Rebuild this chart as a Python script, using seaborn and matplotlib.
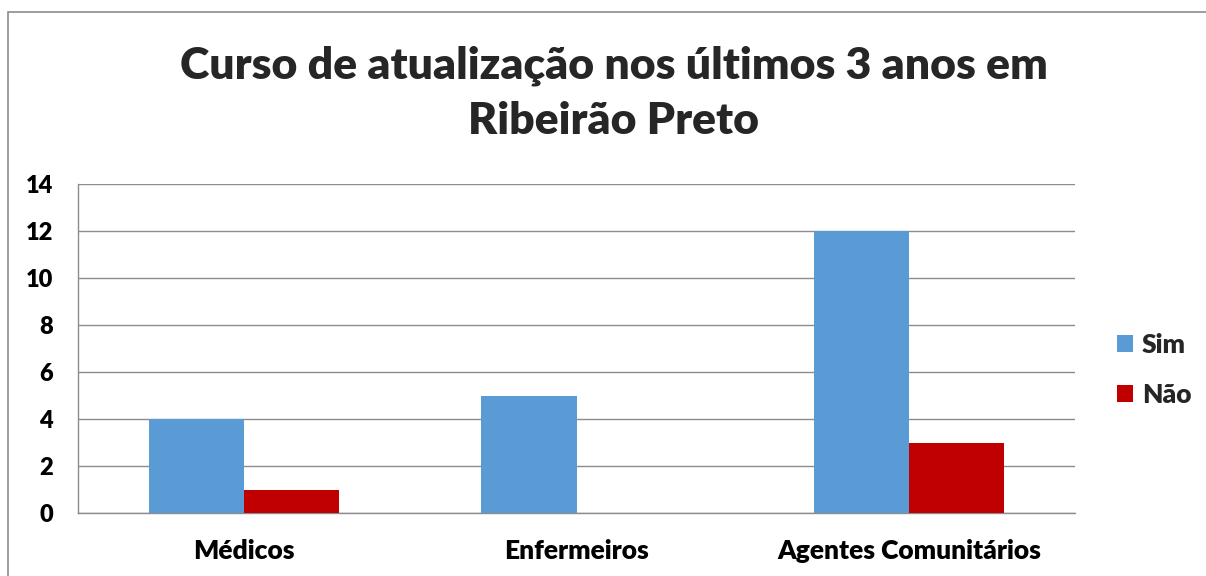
import pandas as pd
import matplotlib.pyplot as plt
import seaborn as sns
from matplotlib.patches import Rectangle

# chart values
categorias = ["Médicos", "Enfermeiros", "Agentes Comunitários"]
sim = [4, 5, 12]
nao = [1, 0, 3]
series = ["Sim", "Não"]
cores = ["#5B9BD5", "#C00000"]
yticks = [0, 2, 4, 6, 8, 10, 12, 14]

df = pd.DataFrame({
    "Categoria": categorias * 2,
    "Resposta": [series[0]] * len(sim) + [series[1]] * len(nao),
    "Valor": sim + nao,
})

sns.set_style("white")
plt.rcParams["font.family"] = ["Lato", "DejaVu Sans"]
W = "heavy"

fig = plt.figure(figsize=(12.06, 5.76), dpi=100)
ax = fig.add_axes([78 / 1206, 63 / 576, 997 / 1206, 329 / 576])

sns.barplot(data=df, x="Categoria", y="Valor", hue="Resposta",
            palette=cores, width=0.572, saturation=1, ax=ax, zorder=3,
            linewidth=0)

ax.set_xlim(-0.5, 2.5)
ax.set_ylim(0, 14)
ax.set_yticks(yticks)
ax.yaxis.grid(True, color="#8c8c8c", linewidth=1, zorder=0)
ax.set_axisbelow(True)
for s in ["top", "right"]:
    ax.spines[s].set_visible(False)
for s in ["left", "bottom"]:
    ax.spines[s].set_color("#8c8c8c")
    ax.spines[s].set_linewidth(1)
ax.tick_params(axis="both", length=0, colors="black")
ax.tick_params(axis="y", labelsize=17, pad=18)
ax.tick_params(axis="x", labelsize=19, pad=19)
for lbl in ax.get_xticklabels() + ax.get_yticklabels():
    lbl.set_fontweight(W)
ax.set_xlabel("")
ax.set_ylabel("")

leg = ax.legend(loc="center left", bbox_to_anchor=(1.018, 0.435), frameon=False,
                fontsize=19, handlelength=0.6, handleheight=0.6,
                handletextpad=0.35, labelspacing=1.0)
for t in leg.get_texts():
    t.set_fontweight(W)

fig.text(0.509, 0.838, "Curso de atualização nos últimos 3 anos em\nRibeirão Preto",
         ha="center", va="center", fontsize=32, fontweight=W, linespacing=1.45)

# outer chart border
fig.patches.append(Rectangle((8 / 1206, -0.1), 1.1, (576 - 12) / 576 + 0.1,
                             transform=fig.transFigure, fill=False,
                             edgecolor="#8c8c8c", linewidth=1.2))

fig.savefig("out.png", dpi=100)
